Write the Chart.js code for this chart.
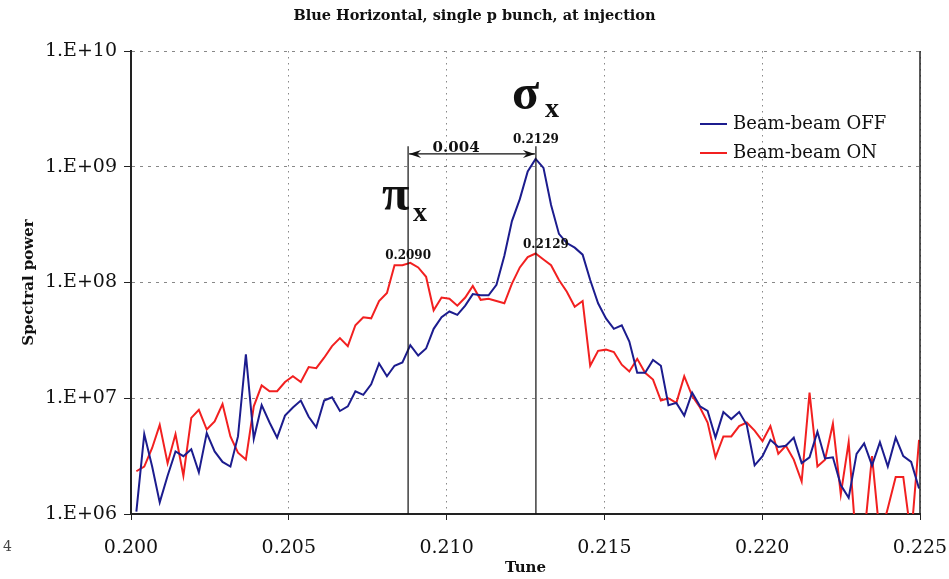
<!DOCTYPE html>
<html>
<head>
<meta charset="utf-8">
<script src="https://cdn.jsdelivr.net/npm/chart.js@4/dist/chart.umd.min.js"></script>
<style>
  html, body { margin: 0; padding: 0; background: #fff; }
  canvas { display: block; }
</style>
</head>
<body>
<canvas id="spectrum" width="949" height="579"></canvas>
<script>
// tune samples (x)
const tune = [
  0.20017, 0.20042, 0.20067, 0.20091, 0.20116, 0.20141, 0.20166, 0.20191, 0.20215, 0.20240,
  0.20265, 0.20290, 0.20315, 0.20339, 0.20364, 0.20389, 0.20414, 0.20439, 0.20463, 0.20488,
  0.20513, 0.20538, 0.20563, 0.20587, 0.20612, 0.20637, 0.20662, 0.20687, 0.20711, 0.20736,
  0.20761, 0.20786, 0.20811, 0.20835, 0.20860, 0.20885, 0.20910, 0.20935, 0.20959, 0.20984,
  0.21009, 0.21034, 0.21059, 0.21083, 0.21108, 0.21133, 0.21158, 0.21183, 0.21207, 0.21232,
  0.21257, 0.21282, 0.21307, 0.21331, 0.21356, 0.21381, 0.21406, 0.21431, 0.21455, 0.21480,
  0.21505, 0.21530, 0.21555, 0.21579, 0.21604, 0.21629, 0.21654, 0.21679, 0.21703, 0.21728,
  0.21753, 0.21778, 0.21803, 0.21827, 0.21852, 0.21877, 0.21902, 0.21927, 0.21951, 0.21976,
  0.22001, 0.22026, 0.22051, 0.22075, 0.22100, 0.22125, 0.22150, 0.22175, 0.22199, 0.22224,
  0.22249, 0.22274, 0.22299, 0.22323, 0.22348, 0.22373, 0.22398, 0.22423, 0.22447, 0.22472,
  0.22497
];

const beamBeamOff = [
  1.05e6, 4.9e6, 2.57e6, 1.26e6, 2.14e6, 3.47e6, 3.16e6, 3.63e6, 2.29e6, 5.01e6,
  3.47e6, 2.82e6, 2.57e6, 4.68e6, 2.4e7, 4.47e6, 8.71e6, 6.17e6, 4.57e6, 7.08e6,
  8.32e6, 9.55e6, 6.92e6, 5.62e6, 9.55e6, 1.02e7, 7.76e6, 8.51e6, 1.15e7, 1.07e7,
  1.32e7, 2.0e7, 1.55e7, 1.91e7, 2.04e7, 2.88e7, 2.34e7, 2.69e7, 3.98e7, 5.01e7,
  5.62e7, 5.25e7, 6.31e7, 7.94e7, 7.76e7, 7.76e7, 9.55e7, 1.70e8, 3.39e8, 5.25e8,
  9.12e8, 1.17e9, 9.77e8, 4.68e8, 2.63e8, 2.19e8, 2.0e8, 1.74e8, 1.05e8, 6.61e7,
  4.90e7, 3.98e7, 4.27e7, 3.09e7, 1.66e7, 1.66e7, 2.14e7, 1.91e7, 8.71e6, 9.12e6,
  7.08e6, 1.12e7, 8.51e6, 7.76e6, 4.57e6, 7.59e6, 6.61e6, 7.59e6, 5.89e6, 2.63e6,
  3.16e6, 4.37e6, 3.80e6, 3.89e6, 4.57e6, 2.75e6, 3.09e6, 5.13e6, 3.02e6, 3.09e6,
  1.78e6, 1.38e6, 3.31e6, 4.07e6, 2.63e6, 4.17e6, 2.57e6, 4.57e6, 3.16e6, 2.82e6,
  1.66e6
];

const beamBeamOn = [
  2.34e6, 2.57e6, 3.72e6, 5.89e6, 2.75e6, 4.90e6, 2.14e6, 6.76e6, 7.94e6, 5.37e6,
  6.31e6, 8.91e6, 4.68e6, 3.39e6, 2.95e6, 8.51e6, 1.29e7, 1.15e7, 1.15e7, 1.38e7,
  1.55e7, 1.38e7, 1.86e7, 1.82e7, 2.24e7, 2.82e7, 3.31e7, 2.82e7, 4.27e7, 5.01e7,
  4.90e7, 6.92e7, 8.13e7, 1.41e8, 1.41e8, 1.48e8, 1.35e8, 1.12e8, 5.75e7, 7.41e7,
  7.24e7, 6.31e7, 7.41e7, 9.33e7, 7.08e7, 7.24e7, 6.92e7, 6.61e7, 9.77e7, 1.35e8,
  1.66e8, 1.78e8, 1.58e8, 1.41e8, 1.05e8, 8.32e7, 6.17e7, 6.92e7, 1.91e7, 2.57e7,
  2.63e7, 2.51e7, 1.95e7, 1.70e7, 2.19e7, 1.66e7, 1.45e7, 9.55e6, 1.0e7, 9.12e6,
  1.55e7, 1.05e7, 8.32e6, 6.17e6, 3.09e6, 4.68e6, 4.68e6, 5.75e6, 6.17e6, 5.25e6,
  4.27e6, 5.75e6, 3.31e6, 3.89e6, 2.95e6, 1.91e6, 1.12e7, 2.57e6, 2.95e6, 6.03e6,
  1.48e6, 4.17e6, 5.0e5, 6.3e5, 3.16e6, 6.3e5, 1.12e6, 2.09e6, 2.09e6, 6.3e5,
  4.37e6
];

const xTicks = [0.200, 0.205, 0.210, 0.215, 0.220, 0.225];
const xTickLabels = ['0.200', '0.205', '0.210', '0.215', '0.220', '0.225'];
const yTicks = [1e6, 1e7, 1e8, 1e9, 1e10];
const yTickLabels = ['1.E+06', '1.E+07', '1.E+08', '1.E+09', '1.E+10'];

// marker lines (where they sit on the plot) and their labels
const piTune = 0.20878;
const sigmaTune = 0.21283;
const markerTop = 1.5e9;
const arrowLevel = 1.29e9;
const piPeakLabel = '0.2090';
const sigmaPeakLabel = '0.2129';
const spacingLabel = '0.004';

const serif = '"DejaVu Serif", "Liberation Serif", serif';
const times = '"Liberation Serif", serif';

const annotations = {
  id: 'annotations',
  afterDatasetsDraw(chart) {
    const { ctx, chartArea, scales: { x, y } } = chart;
    const px = x.getPixelForValue(piTune);
    const sx = x.getPixelForValue(sigmaTune);
    const top = y.getPixelForValue(markerTop);
    const ay = y.getPixelForValue(arrowLevel);

    ctx.save();
    // right frame
    ctx.strokeStyle = '#222';
    ctx.lineWidth = 1.5;
    ctx.beginPath();
    ctx.moveTo(chartArea.right, chartArea.top);
    ctx.lineTo(chartArea.right, chartArea.bottom);
    ctx.stroke();

    // marker lines
    ctx.strokeStyle = '#111';
    ctx.lineWidth = 1.2;
    ctx.beginPath();
    ctx.moveTo(px, top); ctx.lineTo(px, chartArea.bottom);
    ctx.moveTo(sx, top); ctx.lineTo(sx, chartArea.bottom);
    ctx.moveTo(px + 1, ay); ctx.lineTo(sx - 1, ay);
    ctx.stroke();
    // arrow heads
    ctx.fillStyle = '#111';
    ctx.beginPath();
    ctx.moveTo(px + 1, ay); ctx.lineTo(px + 13, ay - 4); ctx.lineTo(px + 9, ay); ctx.lineTo(px + 13, ay + 4);
    ctx.closePath();
    ctx.moveTo(sx - 1, ay); ctx.lineTo(sx - 13, ay - 4); ctx.lineTo(sx - 9, ay); ctx.lineTo(sx - 13, ay + 4);
    ctx.closePath();
    ctx.fill();

    // labels
    ctx.textBaseline = 'alphabetic';
    ctx.textAlign = 'center';
    ctx.font = 'bold 12px ' + serif;
    ctx.fillText(sigmaPeakLabel, sx, top - 3);
    ctx.fillText(piPeakLabel, px, y.getPixelForValue(1.6e8));
    ctx.fillText(sigmaPeakLabel, sx + 10, y.getPixelForValue(2.0e8));
    ctx.font = 'bold 15px ' + serif;
    ctx.fillText(spacingLabel, px + 48, ay - 2);

    ctx.textAlign = 'left';
    ctx.font = 'bold 50px ' + times;
    ctx.fillText('\u03C3', sx - 24, top - 37);
    ctx.fillText('\u03C0', px - 26, top + 64);
    ctx.font = 'bold 28px ' + times;
    ctx.fillText('x', sx + 9, top - 29);
    ctx.fillText('x', px + 5, top + 75);

    // legend inside the plot
    ctx.font = '18px ' + serif;
    ctx.textBaseline = 'middle';
    chart.data.datasets.forEach((ds, i) => {
      const ly = 124 + i * 29;
      ctx.strokeStyle = ds.borderColor;
      ctx.lineWidth = 2;
      ctx.beginPath();
      ctx.moveTo(700, ly); ctx.lineTo(727, ly);
      ctx.stroke();
      ctx.fillStyle = '#111';
      ctx.fillText(ds.label, 733, ly);
    });

    // stray page number at the left edge
    ctx.font = '14px ' + serif;
    ctx.fillStyle = '#444';
    ctx.fillText('4', 3, 547);
    ctx.restore();
  }
};

new Chart(document.getElementById('spectrum'), {
  type: 'line',
  data: {
    datasets: [
      {
        label: 'Beam-beam OFF',
        data: tune.map((t, i) => ({ x: t, y: beamBeamOff[i] })),
        borderColor: '#1c1c8e',
        borderWidth: 2,
        pointRadius: 0,
        tension: 0
      },
      {
        label: 'Beam-beam ON',
        data: tune.map((t, i) => ({ x: t, y: beamBeamOn[i] })),
        borderColor: '#f22020',
        borderWidth: 2,
        pointRadius: 0,
        tension: 0
      }
    ]
  },
  options: {
    responsive: false,
    animation: false,
    devicePixelRatio: 1,
    layout: { padding: 0 },
    plugins: {
      legend: { display: false },
      tooltip: { enabled: false },
      title: {
        display: true,
        text: 'Blue Horizontal, single p bunch, at injection',
        color: '#111',
        font: { family: serif, size: 14.5, weight: 'bold' },
        padding: { top: 8, bottom: 25.6 }
      }
    },
    scales: {
      x: {
        type: 'linear',
        min: 0.2,
        max: 0.225,
        afterBuildTicks: (scale) => { scale.ticks = xTicks.map(v => ({ value: v })); },
        afterFit: (scale) => {
          scale.height = 65;
          scale.paddingLeft = 0;
          scale.paddingRight = 29;
        },
        ticks: {
          color: '#111',
          padding: 17,
          font: { family: serif, size: 19 },
          callback: (value, index) => xTickLabels[index]
        },
        grid: { color: '#888', lineWidth: 1, tickLength: 6, tickColor: '#222' },
        border: { display: true, color: '#222', width: 2, dash: [1.5, 4.5] },
        title: {
          display: true,
          text: 'Tune',
          color: '#111',
          font: { family: serif, size: 15, weight: 'bold' },
          padding: { top: 0, bottom: 2 }
        }
      },
      y: {
        type: 'logarithmic',
        min: 1e6,
        max: 1e10,
        afterBuildTicks: (scale) => { scale.ticks = yTicks.map(v => ({ value: v })); },
        afterFit: (scale) => { scale.width = 131; },
        ticks: {
          color: '#111',
          padding: 7,
          font: { family: serif, size: 19 },
          callback: (value, index) => yTickLabels[index]
        },
        grid: { color: '#888', lineWidth: 1, tickLength: 7, tickColor: '#222' },
        border: { display: true, color: '#222', width: 2, dash: [3, 5] },
        title: {
          display: true,
          text: 'Spectral power',
          color: '#111',
          font: { family: serif, size: 15, weight: 'bold' },
          padding: { top: 20, bottom: 0 }
        }
      }
    }
  },
  plugins: [annotations]
});
</script>
</body>
</html>
